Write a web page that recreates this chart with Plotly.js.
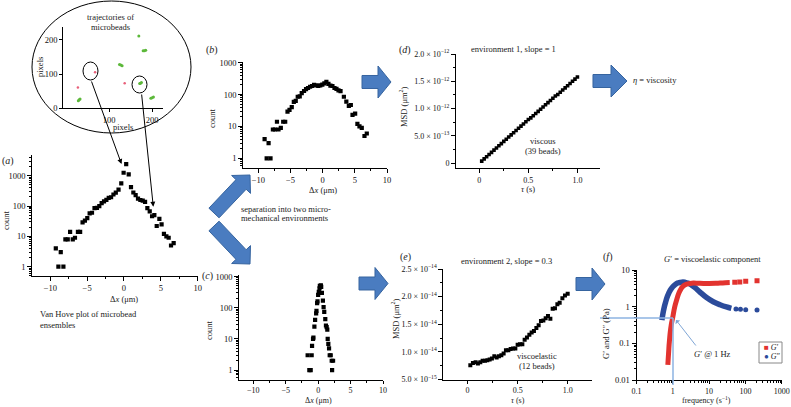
<!DOCTYPE html>
<html><head><meta charset="utf-8">
<script src="https://cdn.plot.ly/plotly-3.0.1.min.js"></script>
<style>html,body{margin:0;padding:0;background:#fff}#chart{width:791px;height:407px}</style>
</head><body><div id="chart"></div>
<script>
// ---- data ----
const aX = [-9.25,-8.9,-8.58,-8.22,-7.95,-7.63,-7.31,-6.95,-6.65,-6.25,-5.95,-5.62,-5.3,-4.98,-4.66,-4.34,-4.0,-3.67,-3.35,-3.03,-2.71,-2.39,-2.07,-1.75,-1.43,-1.11,-0.74,-0.37,-0.05,0.3,0.64,0.95,1.27,1.58,1.9,2.22,2.54,2.86,3.17,3.49,3.81,4.12,4.44,4.8,5.1,5.42,5.75,6.06,6.38,6.74];
const aCount = [4,1,3,1,8,8,14,8,9,14,14,29,33,40,57,60,85,87,100,125,143,160,185,195,240,275,350,560,1250,2400,1100,420,280,230,175,158,150,138,85,67,46,50,22,38,25,12,10,9,5,6];
const bX = [-9.02,-8.7,-8.4,-8.1,-7.73,-7.42,-7.1,-6.86,-6.5,-6.13,-5.82,-5.46,-5.15,-4.8,-4.48,-4.18,-3.87,-3.56,-3.25,-2.89,-2.58,-2.27,-1.95,-1.64,-1.33,-1.0,-0.68,-0.37,-0.05,0.27,0.58,0.9,1.21,1.52,1.84,2.15,2.46,2.78,3.3,3.68,4.07,4.38,4.64,5.05,5.4,5.72,6.08,6.5,6.86];
const bCount = [4,1,3,1,8,8,14,8,9,14,14,29,33,40,59,63,85,88,110,129,148,160,175,185,200,195,185,195,205,225,250,215,190,185,160,150,135,128,85,60,44,47,23,25,12,10,9,5,6];
const cX = [-1.62,-1.36,-1.15,-1.0,-0.94,-0.79,-0.73,-0.58,-0.47,-0.31,-0.26,-0.16,-0.1,0.0,0.1,0.21,0.26,0.42,0.47,0.58,0.73,0.84,0.94,1.1,1.2,1.31,1.41,1.47,1.57,1.68,1.78,1.94,2.09,2.15,2.3];
const cCount = [3,1,1,3,6,10,11,25,41,66,80,140,160,257,325,415,500,525,470,300,170,105,74,43,27,24,20,10,7,5,3,3,2,1,2];
// MSD in units of 1e-12 um^2
const dTau = [0.025,0.05,0.075,0.1,0.125,0.15,0.175,0.2,0.225,0.25,0.275,0.3,0.325,0.35,0.375,0.4,0.425,0.45,0.475,0.5,0.525,0.55,0.575,0.6,0.625,0.65,0.675,0.7,0.725,0.75,0.775,0.8,0.825,0.85,0.875,0.9,0.925,0.95,0.975,1.0];
const dMsd = [0.04,0.08,0.12,0.16,0.2,0.24,0.28,0.32,0.36,0.4,0.44,0.48,0.52,0.56,0.6,0.64,0.68,0.72,0.76,0.8,0.83,0.87,0.91,0.95,0.99,1.03,1.07,1.11,1.15,1.19,1.23,1.26,1.3,1.34,1.38,1.42,1.46,1.5,1.54,1.58];
// MSD in units of 1e-14 um^2
const eTau = [0.027,0.053,0.08,0.103,0.127,0.15,0.173,0.197,0.22,0.243,0.267,0.29,0.313,0.337,0.36,0.383,0.407,0.43,0.453,0.477,0.5,0.523,0.547,0.57,0.593,0.617,0.64,0.663,0.687,0.71,0.733,0.757,0.78,0.803,0.827,0.85,0.873,0.897,0.92,0.947,0.973,1.0];
const eMsd = [0.76,0.8,0.81,0.79,0.81,0.84,0.84,0.85,0.86,0.88,0.92,0.9,0.92,0.94,0.97,1.03,1.03,1.05,1.06,1.06,1.13,1.14,1.14,1.22,1.26,1.31,1.35,1.38,1.43,1.48,1.56,1.57,1.61,1.65,1.6,1.78,1.79,1.86,1.89,1.97,2.02,2.05];
const gpFreq = [0.73,0.75,0.77,0.79,0.81,0.84,0.88,0.93,1.0,1.08,1.16,1.28,1.43,1.6,1.77,2.05,2.4,3.0,3.7,5,7,10,15,20,28,37];
const gpVal  = [0.026,0.04,0.06,0.09,0.12,0.18,0.26,0.37,0.52,0.8,1.1,1.55,2.2,2.8,3.3,3.8,4.1,4.3,4.4,4.35,4.3,4.3,4.35,4.4,4.5,4.55];
const gpTailFreq = [51,70,102,209];
const gpTailVal  = [4.6,4.7,4.9,5.1];
const gppFreq = [0.5,0.52,0.55,0.58,0.63,0.69,0.77,0.85,1.0,1.16,1.35,1.6,1.9,2.2,2.6,3.0,3.5,4.1,5.6,8.5,13,20,30,41];
const gppVal  = [0.43,0.55,0.75,0.96,1.3,1.77,2.3,2.8,3.5,4.0,4.4,4.6,4.7,4.6,4.4,4.15,3.7,3.3,2.5,1.77,1.36,1.13,0.98,0.9];
const gppTailFreq = [55,73,102,209];
const gppTailVal  = [0.87,0.85,0.82,0.81];
const greenX = [124,127,130,179,182,185,171,173,175,197,200,203,28,30,32,169];
const greenY = [128,126,124,168,168,169,72,73,75,29,31,33,22,25,27,211];
const redX = [67,27,136];
const redY = [105,61,73];

// ---- helpers ----
const W = 791, H = 407;
const F = 'Liberation Serif, Times New Roman, serif';
const px = x => x / W, py = y => 1 - y / H;
const dx = (a, b) => [a / W, b / W];
const dy = (top, bot) => [1 - bot / H, 1 - top / H];

function axis(o) {
  return Object.assign({
    showgrid: false, zeroline: false, showline: true, linecolor: '#000', linewidth: 1,
    ticks: 'outside', ticklen: 4, tickwidth: 1, tickcolor: '#000',
    tickfont: {family: F, size: 8.5, color: '#111'}, fixedrange: true
  }, o);
}
const logTicks = (vals) => ({tickmode: 'array', tickvals: vals, ticktext: vals.map(String)});

function blockArrow(tail, tip, bh, hh, hl) {
  const L = Math.hypot(tip[0]-tail[0], tip[1]-tail[1]);
  const d = [(tip[0]-tail[0])/L, (tip[1]-tail[1])/L];
  const n = [-d[1], d[0]];
  const base = [tip[0]-d[0]*hl, tip[1]-d[1]*hl];
  const pts = [
    [tail[0]+n[0]*bh, tail[1]+n[1]*bh], [base[0]+n[0]*bh, base[1]+n[1]*bh],
    [base[0]+n[0]*hh, base[1]+n[1]*hh], tip,
    [base[0]-n[0]*hh, base[1]-n[1]*hh], [base[0]-n[0]*bh, base[1]-n[1]*bh],
    [tail[0]-n[0]*bh, tail[1]-n[1]*bh]];
  const path = 'M' + pts.map(p => px(p[0]).toFixed(5) + ',' + py(p[1]).toFixed(5)).join(' L') + ' Z';
  return {type: 'path', xref: 'paper', yref: 'paper', path: path,
    fillcolor: '#4a7cc0', line: {color: '#36649f', width: 1}, layer: 'above'};
}

function note(text, x, y, o) {
  return Object.assign({text: text, x: px(x), y: py(y), xref: 'paper', yref: 'paper',
    showarrow: false, xanchor: 'center', yanchor: 'middle',
    font: {family: F, size: 8.5, color: '#222'}}, o || {});
}
const lbl = {font: {family: F, size: 10, color: '#222'}};
const bottomTitle = {yanchor: 'bottom', font: {family: F, size: 8, color: '#222'}};
const sq = (size) => ({symbol: 'square', size: size, color: '#000'});

const traces = [
  {x: aX, y: aCount, xaxis: 'x', yaxis: 'y', mode: 'markers', marker: sq(4.2), type: 'scatter'},
  {x: bX, y: bCount, xaxis: 'x2', yaxis: 'y2', mode: 'markers', marker: sq(4.2), type: 'scatter'},
  {x: cX, y: cCount, xaxis: 'x3', yaxis: 'y3', mode: 'markers', marker: sq(4.2), type: 'scatter'},
  {x: dTau, y: dMsd, xaxis: 'x4', yaxis: 'y4', mode: 'markers', marker: sq(3.6), type: 'scatter'},
  {x: eTau, y: eMsd, xaxis: 'x5', yaxis: 'y5', mode: 'markers', marker: sq(4), type: 'scatter'},
  {x: gppFreq, y: gppVal, xaxis: 'x6', yaxis: 'y6', mode: 'lines', line: {color: '#2b4b9b', width: 5.5, shape: 'spline'}, type: 'scatter'},
  {x: gppTailFreq, y: gppTailVal, xaxis: 'x6', yaxis: 'y6', mode: 'markers', marker: {color: '#2b4b9b', size: 5}, type: 'scatter'},
  {x: gpFreq, y: gpVal, xaxis: 'x6', yaxis: 'y6', mode: 'lines', line: {color: '#e2332f', width: 5, shape: 'spline'}, type: 'scatter'},
  {x: gpTailFreq, y: gpTailVal, xaxis: 'x6', yaxis: 'y6', mode: 'markers', marker: {color: '#e2332f', size: 5, symbol: 'square'}, type: 'scatter'},
  {x: greenX, y: greenY, xaxis: 'x7', yaxis: 'y7', mode: 'markers', marker: {color: '#5cb83a', size: 3}, type: 'scatter'},
  {x: redX, y: redY, xaxis: 'x7', yaxis: 'y7', mode: 'markers', marker: {color: '#e8607a', size: 2.5}, type: 'scatter'}
];

const dxTicks = {tickmode: 'array', tickvals: [-10,-5,0,5,10], ticktext: ['−10','−5','0','5','10'],
  minor: {ticks: 'outside', ticklen: 2, dtick: 2.5, tickcolor: '#000'}};
const cntTicks = Object.assign(logTicks([1,10,100,1000]), {minor: {ticks: 'outside', ticklen: 2, dtick: 'D1', tickcolor: '#000'}});
const smallFont = {tickfont: {family: F, size: 8, color: '#111'}};

const layout = {
  width: W, height: H, margin: {l: 0, r: 0, t: 0, b: 0},
  paper_bgcolor: '#fff', plot_bgcolor: 'rgba(0,0,0,0)', showlegend: false,
  font: {family: F, size: 8.5, color: '#222'},
  xaxis: axis(Object.assign({domain: dx(32.3,197.7), range: [-12.44,10], anchor: 'y'}, dxTicks)),
  yaxis: axis(Object.assign({domain: dy(155,276), type: 'log', range: [-0.307,3.683], anchor: 'x'}, cntTicks)),
  xaxis2: axis(Object.assign({domain: dx(243.3,387), range: [-12.33,10], anchor: 'y2'}, dxTicks)),
  yaxis2: axis(Object.assign({domain: dy(62,167.7), type: 'log', range: [-0.295,3.02], anchor: 'x2'}, cntTicks)),
  xaxis3: axis(Object.assign({domain: dx(239.3,383), range: [-12.16,10], anchor: 'y3', ticklen: 3}, dxTicks, smallFont)),
  yaxis3: axis(Object.assign({domain: dy(275,379.5), type: 'log', range: [-0.3,3.05], anchor: 'x3'}, cntTicks)),
  xaxis4: axis(Object.assign({domain: dx(456,600), range: [-0.237,1.23], anchor: 'y4', tickmode: 'array',
    tickvals: [0,0.5,1], ticktext: ['0','0.5','1.0'], minor: {ticks: 'outside', ticklen: 2, dtick: 0.25, tick0: 0, tickcolor: '#000'}}, smallFont)),
  yaxis4: axis(Object.assign({domain: dy(54,168.3), range: [-0.092,2.0], anchor: 'x4', tickmode: 'array',
    tickvals: [0,0.5,1,1.5,2], ticktext: ['0','5.0 × 10<sup>−13</sup>','1.0 × 10<sup>−12</sup>','1.5 × 10<sup>−12</sup>','2.0 × 10<sup>−12</sup>'],
    minor: {ticks: 'outside', ticklen: 2, dtick: 0.25, tick0: 0, tickcolor: '#000'}}, smallFont)),
  xaxis5: axis(Object.assign({domain: dx(443.3,592.3), range: [-0.243,1.246], anchor: 'y5', tickmode: 'array', ticklen: 3,
    tickvals: [0,0.5,1], ticktext: ['0','0.5','1.0'], minor: {ticks: 'outside', ticklen: 2, dtick: 0.25, tick0: 0, tickcolor: '#000'}}, smallFont)),
  yaxis5: axis(Object.assign({domain: dy(269,379.5), range: [0.5,2.5], anchor: 'x5', tickmode: 'array',
    tickvals: [0.5,1,1.5,2,2.5], ticktext: ['5.0 × 10<sup>−15</sup>','1.0 × 10<sup>−14</sup>','1.5 × 10<sup>−14</sup>','2.0 × 10<sup>−14</sup>','2.5 × 10<sup>−14</sup>'],
    minor: {ticks: 'outside', ticklen: 2, dtick: 0.25, tick0: 0, tickcolor: '#000'}}, smallFont)),
  xaxis6: axis(Object.assign({domain: dx(636.5,781.7), type: 'log', range: [-1,3], anchor: 'y6', ticklen: 3},
    logTicks([0.1,1,10,100,1000]), {minor: {ticks: 'outside', ticklen: 2, dtick: 'D1', tickcolor: '#000'}}, smallFont)),
  yaxis6: axis(Object.assign({domain: dy(270,380), type: 'log', range: [-2,1], anchor: 'x6'},
    logTicks([0.01,0.1,1,10]), {minor: {ticks: 'outside', ticklen: 2, dtick: 'D1', tickcolor: '#000'}})),
  xaxis7: axis({domain: dx(63.3,163.3), range: [-7,226], anchor: 'y7', tickmode: 'array', tickvals: [100,200], ticklen: 3}),
  yaxis7: axis({domain: dy(26.7,108.3), range: [0,238], anchor: 'x7', tickmode: 'array', tickvals: [0,100,200], ticklen: 3}),
  shapes: [
    {type: 'circle', xref: 'paper', yref: 'paper', x0: px(32), x1: px(191), y0: py(133), y1: py(1), line: {color: '#000', width: 1}},
    {type: 'circle', xref: 'paper', yref: 'paper', x0: px(83), x1: px(98), y0: py(80), y1: py(62), line: {color: '#000', width: 1}},
    {type: 'circle', xref: 'paper', yref: 'paper', x0: px(132), x1: px(147), y0: py(93), y1: py(76), line: {color: '#000', width: 1}},
    {type: 'line', xref: 'paper', yref: 'paper', x0: px(600), x1: px(673), y0: py(318), y1: py(318), line: {color: '#8db3e2', width: 1.5}},
    {type: 'line', xref: 'paper', yref: 'paper', x0: px(673), x1: px(673), y0: py(318), y1: py(385), line: {color: '#8db3e2', width: 1.5}},
    {type: 'rect', xref: 'paper', yref: 'paper', x0: px(759), x1: px(782), y0: py(363), y1: py(342), line: {color: '#888', width: 1}},
    blockArrow([362,82],[391,82],6.5,16,13),
    blockArrow([593,81],[627,81],6.5,16,16),
    blockArrow([359,283.5],[388,283.5],6.5,16,13),
    blockArrow([576,284],[605,284],6.5,16,13),
    blockArrow([214,213],[250,175],7,13,13),
    blockArrow([214,226],[250,264],7,13,13)
  ],
  annotations: [
    note('(<i>a</i>)', 8, 161, lbl),
    note('count', 6, 220, {textangle: -90}),
    note('Δ<i>x</i> (μm)', 124, 299),
    note('Van Hove plot of microbead', 38, 314, {xanchor: 'left'}),
    note('ensembles', 38, 325, {xanchor: 'left'}),
    note('(<i>b</i>)', 212, 50, lbl),
    note('count', 212, 118, {textangle: -90}),
    note('Δ<i>x</i> (μm)', 323, 190),
    note('separation into two micro-', 239, 209, {xanchor: 'left'}),
    note('mechanical environments', 239, 218, {xanchor: 'left'}),
    note('(<i>c</i>)', 207, 276, lbl),
    note('count', 209, 330, {textangle: -90}),
    note('Δ<i>x</i> (μm)', 318, 407, bottomTitle),
    note('(<i>d</i>)', 405, 50, lbl),
    note('environment 1, slope = 1', 513, 49),
    note('MSD (μm<sup>2</sup>)', 403, 107, {textangle: -90}),
    note('<i>τ</i> (s)', 528, 189),
    note('viscous', 543, 141),
    note('(39 beads)', 543, 151),
    note('<i>η</i> = viscosity', 631, 80, {xanchor: 'left'}),
    note('(<i>e</i>)', 405, 257, lbl),
    note('environment 2, slope = 0.3', 506, 261),
    note('MSD (μm<sup>2</sup>)', 395, 319, {textangle: -90}),
    note('<i>τ</i> (s)', 518, 407, bottomTitle),
    note('viscoelastic', 537, 356),
    note('(12 beads)', 537, 366),
    note('(<i>f</i>)', 607, 257, lbl),
    note('<i>G</i>′ = viscoelastic component', 712, 259),
    note('G′ and G″ (Pa)', 606, 334, {textangle: -90}),
    note('frequency (s<sup>−1</sup>)', 706, 407, bottomTitle),
    note('<i>G</i>′ @ 1 Hz', 712, 354),
    note('<span style="color:#e2332f">■</span> <i>G</i>′', 762, 347, {xanchor: 'left', font: {family: F, size: 8, color: '#222'}}),
    note('<span style="color:#2b4b9b">●</span> <i>G</i>″', 762, 356, {xanchor: 'left', font: {family: F, size: 8, color: '#222'}}),
    note('trajectories of', 110, 17),
    note('microbeads', 110, 27),
    note('pixels', 40, 67, {textangle: -90}),
    note('pixels', 123, 127),
    {x: px(121.5), y: py(164), xref: 'paper', yref: 'paper', text: '', showarrow: true,
      ax: -30.5, ay: -84, arrowhead: 2, arrowsize: 1, arrowwidth: 1, arrowcolor: '#000'},
    {x: px(153.3), y: py(206.7), xref: 'paper', yref: 'paper', text: '', showarrow: true,
      ax: -11.8, ay: -113.7, arrowhead: 2, arrowsize: 1, arrowwidth: 1, arrowcolor: '#000'},
    {x: px(676), y: py(320), xref: 'paper', yref: 'paper', text: '', showarrow: true,
      ax: 21, ay: 27, arrowhead: 1, arrowsize: 1, arrowwidth: 1, arrowcolor: '#7fa6d6'}
  ]
};

Plotly.newPlot('chart', traces, layout, {staticPlot: true, displayModeBar: false});
</script>
</body></html>
